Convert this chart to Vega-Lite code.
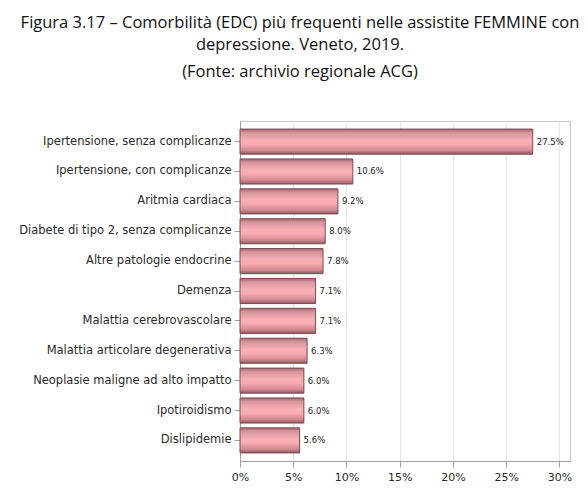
{
  "$schema": "https://vega.github.io/schema/vega-lite/v6.json",
  "autosize": {"type": "none"},
  "padding": {"left": 240, "top": 121, "right": 18, "bottom": 28},
  "width": 330,
  "height": 340,
  "background": "white",
  "title": {
    "text": ["Figura 3.17 – Comorbilità (EDC) più frequenti nelle assistite FEMMINE con", "depressione. Veneto, 2019."],
    "subtitle": "(Fonte: archivio regionale ACG)",
    "anchor": "middle",
    "dx": -105,
    "font": "Open Sans",
    "fontSize": 16.5,
    "fontWeight": "normal",
    "lineHeight": 22,
    "color": "#111",
    "subtitleFont": "Open Sans",
    "subtitleFontSize": 16.5,
    "subtitleColor": "#111",
    "subtitlePadding": 10,
    "offset": 41
  },
  "config": {
    "view": {"stroke": "#c8c8c8", "strokeWidth": 1},
    "axis": {
      "labelFont": "DejaVu Sans",
      "labelColor": "#2a2a2a",
      "domainColor": "#a0a0a0",
      "tickColor": "#a0a0a0",
      "tickSize": 6
    }
  },
  "data": {
    "values": [
      {"comorbidita": "Ipertensione, senza complicanze", "quota": 0.275},
      {"comorbidita": "Ipertensione, con complicanze", "quota": 0.106},
      {"comorbidita": "Aritmia cardiaca", "quota": 0.092},
      {"comorbidita": "Diabete di tipo 2, senza complicanze", "quota": 0.080},
      {"comorbidita": "Altre patologie endocrine", "quota": 0.078},
      {"comorbidita": "Demenza", "quota": 0.071},
      {"comorbidita": "Malattia cerebrovascolare", "quota": 0.071},
      {"comorbidita": "Malattia articolare degenerativa", "quota": 0.063},
      {"comorbidita": "Neoplasie maligne ad alto impatto", "quota": 0.060},
      {"comorbidita": "Ipotiroidismo", "quota": 0.060},
      {"comorbidita": "Dislipidemie", "quota": 0.056}
    ]
  },
  "encoding": {
    "y": {
      "field": "comorbidita",
      "type": "nominal",
      "sort": null,
      "title": null,
      "scale": {"paddingInner": 0.16, "paddingOuter": 0.27},
      "axis": {"labelFontSize": 11.5, "labelPadding": 3, "labelLimit": 300, "grid": false}
    },
    "x": {
      "field": "quota",
      "type": "quantitative",
      "title": null,
      "scale": {"domain": [0, 0.31], "nice": false},
      "axis": {
        "values": [0, 0.05, 0.1, 0.15, 0.2, 0.25, 0.3],
        "format": ".0%",
        "labelFontSize": 11,
        "labelPadding": 4,
        "grid": true,
        "gridColor": "#e4e4e4",
        "labelFlush": false
      }
    }
  },
  "layer": [
    {
      "mark": {
        "type": "bar",
        "stroke": "#7d4a50",
        "strokeWidth": 1,
        "color": {
          "gradient": "linear",
          "x1": 0, "y1": 0, "x2": 0, "y2": 1,
          "stops": [
            {"offset": 0, "color": "#a36a72"},
            {"offset": 0.15, "color": "#d8959b"},
            {"offset": 0.45, "color": "#f8b0b5"},
            {"offset": 0.6, "color": "#f6acb1"},
            {"offset": 0.85, "color": "#d2898f"},
            {"offset": 1, "color": "#8d5a60"}
          ]
        }
      }
    },
    {
      "mark": {"type": "text", "align": "left", "baseline": "middle", "dx": 4, "font": "DejaVu Sans", "fontSize": 8.5, "color": "#222"},
      "encoding": {"text": {"field": "quota", "type": "quantitative", "format": ".1%"}}
    }
  ]
}
